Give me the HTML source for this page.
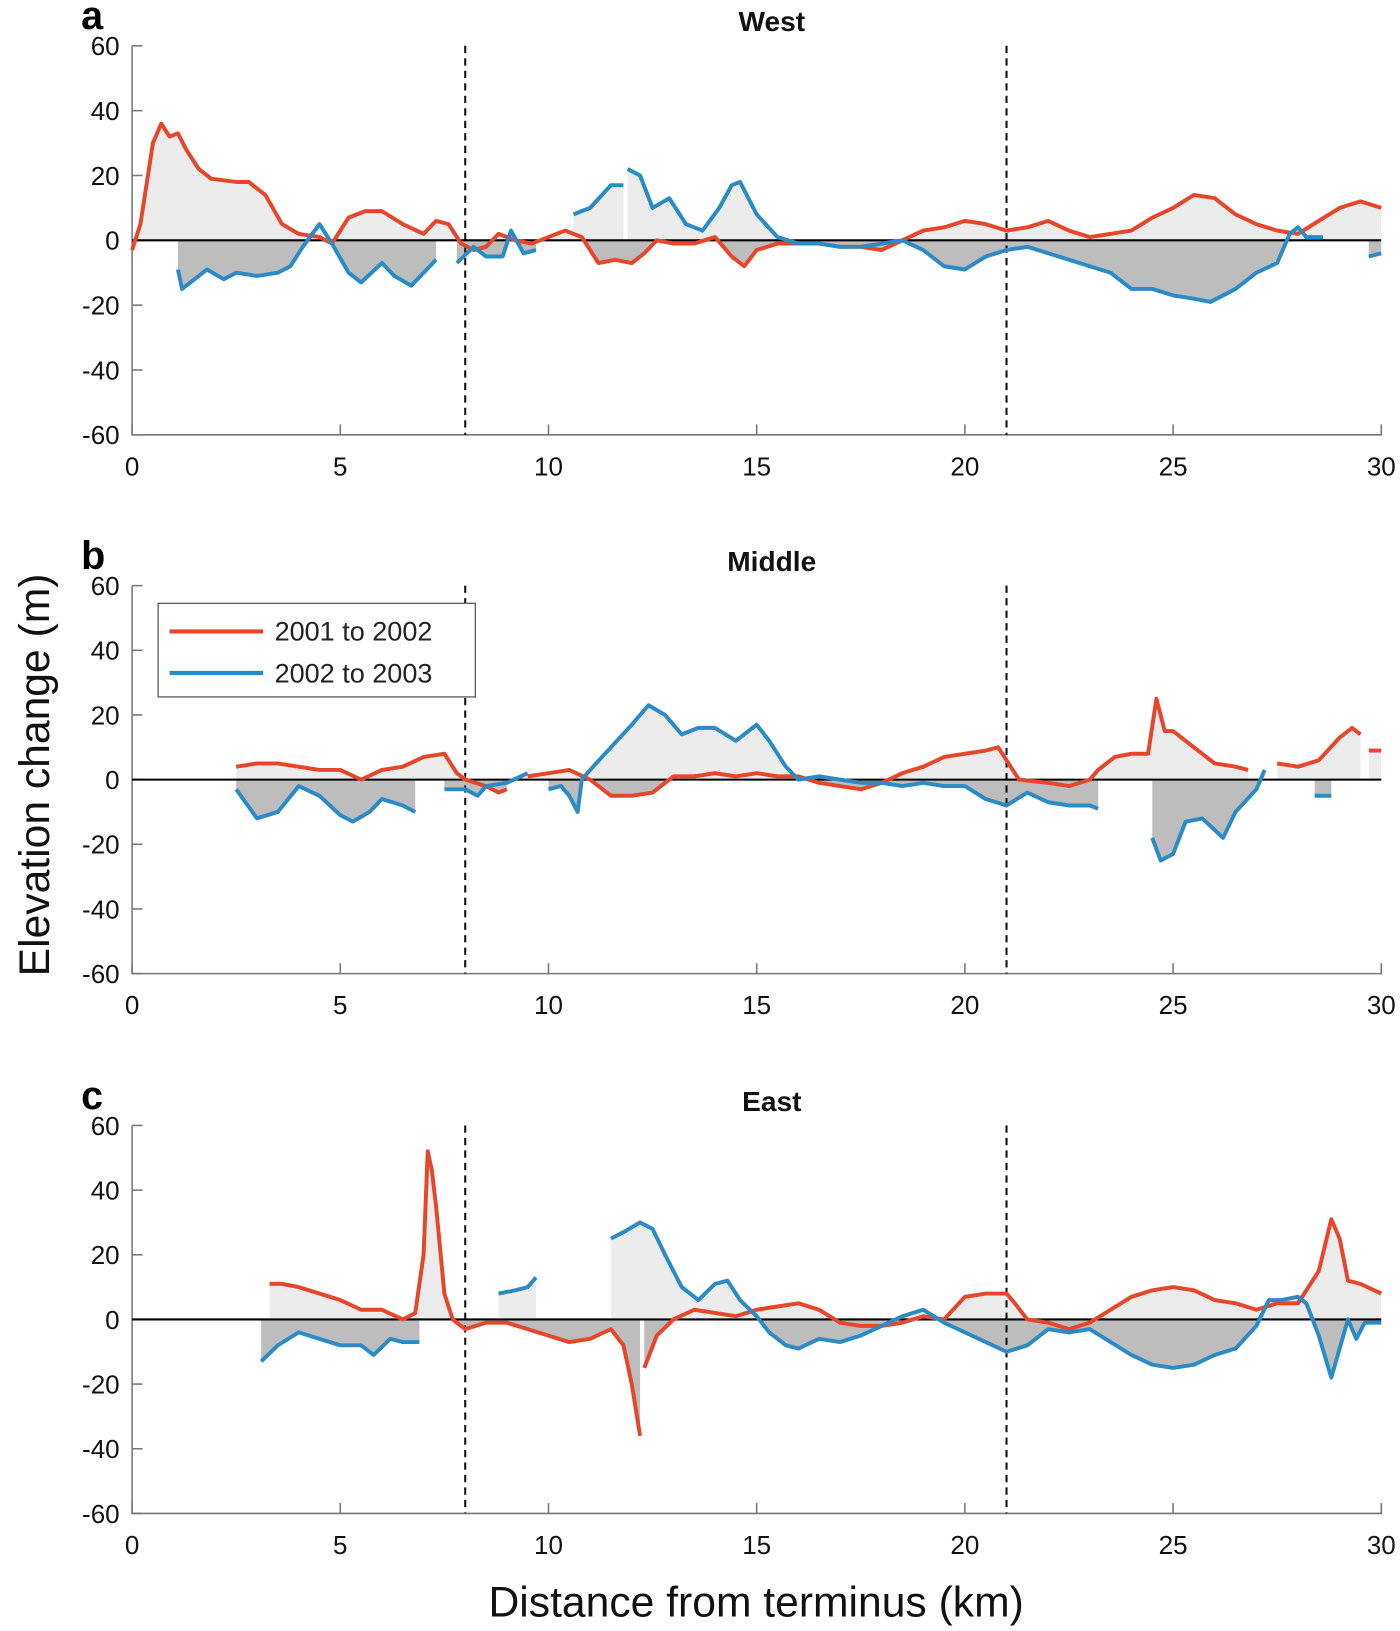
<!DOCTYPE html>
<html><head><meta charset="utf-8">
<style>
html,body{margin:0;padding:0;background:#fff;}
svg{display:block;font-family:"Liberation Sans",Arial,sans-serif;}
</style></head>
<body>
<svg id="chart" width="1400" height="1631" viewBox="0 0 1346 1568" xmlns="http://www.w3.org/2000/svg"></svg>
<script>
// ---- data ----
const panelTitles = ["West","Middle","East"];
const panelLetters = ["a","b","c"];
const xTicks = [0,5,10,15,20,25,30];
const yTicks = [60,40,20,0,-20,-40,-60];
const dashedX = [8,21];
const seriesNames = ["2001 to 2002","2002 to 2003"];

const aRedX = [0,0.2,0.5,0.7,0.9,1.1,1.3,1.6,1.9,2.5,2.8,3.2,3.6,4,4.5,4.8,5.2,5.6,6,6.5,7,7.3,7.6,7.9,8.2,8.5,8.8,9.2,9.6,10,10.4,10.8,11.2,11.6,12,12.3,12.6,13,13.5,14,14.4,14.7,15,15.5,16,16.5,17,17.5,18,18.5,19,19.5,20,20.5,21,21.5,22,22.5,23,23.5,24,24.5,25,25.5,26,26.5,27,27.5,28,28.5,29,29.5,30];
const aRedY = [-3,5,30,36,32,33,28,22,19,18,18,14,5,2,1,-1,7,9,9,5,2,6,5,-1,-3,-2,2,0,-1,1,3,1,-7,-6,-7,-4,0,-1,-1,1,-5,-8,-3,-1,-1,-1,-2,-2,-3,0,3,4,6,5,3,4,6,3,1,2,3,7,10,14,13,8,5,3,2,6,10,12,10];
const aBlueX = [1.1,1.2,1.5,1.8,2.2,2.5,3,3.5,3.8,4.1,4.5,4.8,5.2,5.5,6,6.3,6.7,7,7.3,null,7.8,8.2,8.5,8.9,9.1,9.4,9.7,null,10.6,11,11.5,11.8,null,11.9,12.2,12.5,12.9,13.3,13.7,14.1,14.4,14.6,15,15.5,16,16.5,17,17.5,18,18.5,19,19.5,20,20.5,21,21.5,22,22.5,23,23.5,24,24.5,25,25.5,25.9,26.5,27,27.5,27.8,28,28.2,28.6,null,29.7,30];
const aBlueY = [-9,-15,-12,-9,-12,-10,-11,-10,-8,-2,5,-1,-10,-13,-7,-11,-14,-10,-6,null,-7,-2,-5,-5,3,-4,-3,null,8,10,17,17,null,22,20,10,13,5,3,10,17,18,8,1,-1,-1,-2,-2,-1,0,-3,-8,-9,-5,-3,-2,-4,-6,-8,-10,-15,-15,-17,-18,-19,-15,-10,-7,2,4,1,1,null,-5,-4];

const bRedX = [2.5,3,3.5,4,4.5,5,5.5,6,6.5,7,7.5,7.8,8,8.5,8.8,9,null,9.5,10,10.5,11,11.5,12,12.5,13,13.5,14,14.5,15,15.5,16,16.5,17,17.5,18,18.5,19,19.5,20,20.5,20.8,21,21.3,22,22.5,23,23.2,23.6,24,24.4,24.6,24.8,25,25.5,26,26.5,26.8,null,27.5,28,28.5,29,29.3,29.5,null,29.7,30];
const bRedY = [4,5,5,4,3,3,0,3,4,7,8,2,0,-2,-4,-3,null,1,2,3,0,-5,-5,-4,1,1,2,1,2,1,1,-1,-2,-3,-1,2,4,7,8,9,10,6,0,-1,-2,0,3,7,8,8,25,15,15,10,5,4,3,null,5,4,6,13,16,14,null,9,9];
const bBlueX = [2.5,3,3.5,4,4.5,5,5.3,5.7,6,6.5,6.8,null,7.5,8,8.3,8.5,9,9.5,null,10,10.3,10.5,10.7,10.8,11,11.5,12,12.4,12.8,13.2,13.6,14,14.5,15,15.3,15.7,16,16.5,17,17.5,18,18.5,19,19.5,20,20.5,21,21.5,22,22.5,23,23.2,null,24.5,24.7,25,25.3,25.7,26.2,26.5,27,27.2,null,28.4,28.8];
const bBlueY = [-3,-12,-10,-2,-5,-11,-13,-10,-6,-8,-10,null,-3,-3,-5,-2,-1,2,null,-3,-2,-5,-10,0,3,10,17,23,20,14,16,16,12,17,12,4,0,1,0,-1,-1,-2,-1,-2,-2,-6,-8,-4,-7,-8,-8,-9,null,-18,-25,-23,-13,-12,-18,-10,-3,3,null,-5,-5];

const cRedX = [3.3,3.6,4,4.5,5,5.5,6,6.5,6.8,7,7.1,7.2,7.3,7.5,7.7,8,8.5,9,9.5,10,10.5,11,11.5,11.8,12,12.2,null,12.3,12.6,13,13.5,14,14.5,15,15.5,16,16.5,17,17.5,18,18.5,19,19.5,20,20.5,21,21.2,21.5,22,22.5,23,23.5,24,24.5,25,25.5,26,26.5,27,27.5,28,28.5,28.8,29,29.2,29.5,30];
const cRedY = [11,11,10,8,6,3,3,0,2,20,52,46,35,8,0,-3,-1,-1,-3,-5,-7,-6,-3,-8,-20,-36,null,-15,-5,0,3,2,1,3,4,5,3,-1,-2,-2,-1,1,0,7,8,8,5,0,-1,-3,-1,3,7,9,10,9,6,5,3,5,5,15,31,25,12,11,8];
const cBlueX = [3.1,3.5,4,4.5,5,5.5,5.8,6.2,6.5,6.9,null,8.8,9.2,9.5,9.7,null,11.5,11.8,12.2,12.5,12.8,13.2,13.6,14,14.3,14.6,15,15.3,15.7,16,16.5,17,17.5,18,18.5,19,19.5,20,20.5,21,21.5,22,22.5,23,23.5,24,24.5,25,25.5,26,26.5,27,27.3,27.6,28,28.2,28.5,28.8,29,29.2,29.4,29.6,30];
const cBlueY = [-13,-8,-4,-6,-8,-8,-11,-6,-7,-7,null,8,9,10,13,null,25,27,30,28,20,10,6,11,12,6,1,-4,-8,-9,-6,-7,-5,-2,1,3,-1,-4,-7,-10,-8,-3,-4,-3,-7,-11,-14,-15,-14,-11,-9,-2,6,6,7,5,-5,-18,-9,0,-6,-1,-1];

const panels = [
  {top:44, bottom:418, reds:[aRedX,aRedY], blues:[aBlueX,aBlueY]},
  {top:563, bottom:936, reds:[bRedX,bRedY], blues:[bBlueX,bBlueY]},
  {top:1082, bottom:1455, reds:[cRedX,cRedY], blues:[cBlueX,cBlueY]}
];
const X0=127, X1=1328, RED="#e8462a", BLUE="#2b8bc6";
const NS="http://www.w3.org/2000/svg";
const svg=document.getElementById('chart');
function mk(tag,attrs,parent){const e=document.createElementNS(NS,tag);for(const k in attrs)e.setAttribute(k,attrs[k]);(parent||svg).appendChild(e);return e;}

panels.forEach((p,pi)=>{
  const g=mk('g',{});
  
  
  const sx=v=>X0+(v/30)*(X1-X0);
  const sy=v=>p.top+(60-v)/120*(p.bottom-p.top);
  const y0=sy(0);
  const cu=mk('clipPath',{id:'up'+pi},g); mk('rect',{x:X0,y:p.top,width:X1-X0,height:y0-p.top},cu);
  const cd=mk('clipPath',{id:'dn'+pi},g); mk('rect',{x:X0,y:y0,width:X1-X0,height:p.bottom-y0},cd);
  function segs(xs,ys){const out=[];let cur=[];for(let i=0;i<xs.length;i++){if(xs[i]===null){if(cur.length)out.push(cur);cur=[];}else cur.push([sx(xs[i]),sy(ys[i])]);}if(cur.length)out.push(cur);return out;}
  const series=[[p.reds,RED,seriesNames[0]],[p.blues,BLUE,seriesNames[1]]];
  series.forEach(([d,col,nm])=>{
    segs(d[0],d[1]).forEach(s=>{
      const pts=s.map(q=>q.join(',')).join(' ')+' '+s[s.length-1][0]+','+y0+' '+s[0][0]+','+y0;
      const fu=mk('polygon',{points:pts,fill:'#ececec','clip-path':'url(#up'+pi+')'},g);
      
      
      const fd=mk('polygon',{points:pts,fill:'#bdbdbd','clip-path':'url(#dn'+pi+')'},g);
      
      
    });
  });
  const ax=mk('path',{d:`M${X0},${p.top}V${p.bottom}H${X1}V${p.bottom-8}`,stroke:'#777',fill:'none','stroke-width':1.5},g);
  
  
  yTicks.forEach(t=>{
    mk('line',{x1:X0,x2:X0+10,y1:sy(t),y2:sy(t),stroke:'#777','stroke-width':1.5},g);
    const tx=mk('text',{x:X0-12,y:sy(t)+9,'text-anchor':'end','font-size':25,fill:'#111'},g);
    tx.textContent=t;
    
    
  });
  xTicks.forEach(t=>{
    mk('line',{x1:sx(t),x2:sx(t),y1:p.bottom,y2:p.bottom-10,stroke:'#777','stroke-width':1.5},g);
    const tx=mk('text',{x:sx(t),y:p.bottom+39,'text-anchor':'middle','font-size':25,fill:'#111'},g);
    tx.textContent=t;
    
    
  });
  dashedX.forEach(v=>{
    const l=mk('line',{x1:sx(v),x2:sx(v),y1:p.top,y2:p.bottom,stroke:'#111','stroke-width':2,'stroke-dasharray':'7,5'},g);
    
    
  });
  const zl=mk('line',{x1:X0,x2:X1,y1:y0,y2:y0,stroke:'#000','stroke-width':2},g);
  
  
  series.forEach(([d,col,nm])=>{
    segs(d[0],d[1]).forEach(s=>{
      const pl=mk('polyline',{points:s.map(q=>q.join(',')).join(' '),fill:'none',stroke:col,'stroke-width':3.8,'stroke-linejoin':'round'},g);
      
      
    });
  });
  const ti=mk('text',{x:742,y:p.top-14,'text-anchor':'middle','font-size':27,'font-weight':'bold',fill:'#111'},g);
  ti.textContent=panelTitles[pi];
  
  
  const le=mk('text',{x:78,y:p.top-16,'font-size':38,'font-weight':'bold',fill:'#000'},g);
  le.textContent=panelLetters[pi];
  
  
});

const lg=mk('g',{});


mk('rect',{x:152,y:580,width:305,height:90,fill:'#fff',stroke:'#555','stroke-width':1.2},lg);
[[RED,seriesNames[0],607],[BLUE,seriesNames[1],647]].forEach(([c,n,y])=>{
  const l=mk('line',{x1:163,x2:253,y1:y,y2:y,stroke:c,'stroke-width':4},lg);
  
  
  const t=mk('text',{x:264,y:y+9,'font-size':26,fill:'#222'},lg);
  t.textContent=n;
  
  
});
const yl=mk('text',{x:0,y:0,'font-size':41,'text-anchor':'middle',fill:'#111',transform:'translate(47,745) rotate(-90)'});
yl.textContent='Elevation change (m)';


const xl=mk('text',{x:727,y:1554,'font-size':41,'text-anchor':'middle',fill:'#111'});
xl.textContent='Distance from terminus (km)';


</script>
</body></html>
